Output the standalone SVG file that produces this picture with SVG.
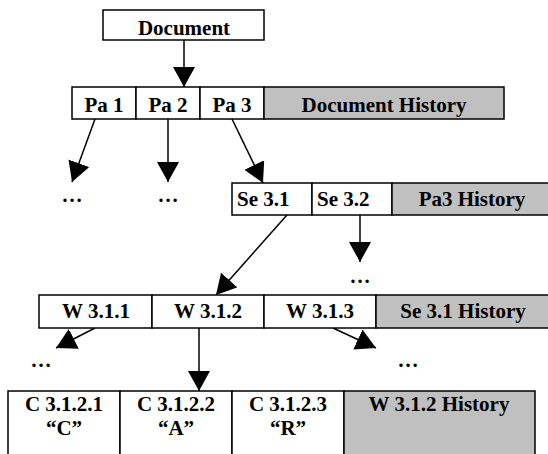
<svg xmlns="http://www.w3.org/2000/svg" width="548" height="454" viewBox="0 0 548 454">
<style>
.c{fill:#fff;stroke:#000;stroke-width:1.5}
.h{fill:#c0c0c0;stroke:#000;stroke-width:1.5}
text{font-family:"Liberation Serif","Times New Roman",serif;font-weight:bold;font-size:21px;fill:#000}
.m{text-anchor:middle}
.e{stroke:#000;stroke-width:1.5;fill:none;marker-end:url(#ah)}
</style>
<defs>
<marker id="ah" markerUnits="userSpaceOnUse" markerWidth="20" markerHeight="22" refX="20" refY="11" orient="auto" viewBox="0 0 20 22">
<path d="M0,0 L20,11 L0,22 z" fill="#000"/>
</marker>
</defs>
<rect width="548" height="454" fill="#fff"/>
<g id="connectors">
<line class="e" x1="184" y1="40" x2="184" y2="87"/>
<line class="e" x1="95" y1="119" x2="72" y2="182"/>
<line class="e" x1="168" y1="119" x2="168" y2="182"/>
<line class="e" x1="232" y1="119" x2="263" y2="183"/>
<line class="e" x1="287" y1="215" x2="216" y2="295"/>
<line class="e" x1="360" y1="215" x2="360" y2="262"/>
<line class="e" x1="95" y1="328" x2="56" y2="348"/>
<line class="e" x1="199" y1="328" x2="199" y2="391"/>
<line class="e" x1="333" y1="328" x2="376" y2="348"/>
</g>
<g id="document"><rect class="c" x="103" y="10" width="161" height="30"/><text class="m" x="184" y="35">Document</text></g>
<g id="pa1"><rect class="c" x="72" y="87" width="64" height="32"/><text class="m" x="104" y="112">Pa 1</text></g>
<g id="pa2"><rect class="c" x="136" y="87" width="64" height="32"/><text class="m" x="168" y="112">Pa 2</text></g>
<g id="pa3"><rect class="c" x="200" y="87" width="64" height="32"/><text class="m" x="232" y="112">Pa 3</text></g>
<g id="dochist"><rect class="h" x="264" y="87" width="240" height="32"/><text class="m" x="384" y="112">Document History</text></g>
<g id="dots1"><text class="m" x="72" y="202">…</text></g>
<g id="dots2"><text class="m" x="168" y="202">…</text></g>
<g id="se31"><rect class="c" x="232" y="183" width="80" height="32"/><text x="237" y="206">Se 3.1</text></g>
<g id="se32"><rect class="c" x="312" y="183" width="80" height="32"/><text x="317" y="206">Se 3.2</text></g>
<g id="pa3hist"><rect class="h" x="392" y="183" width="162" height="32"/><text class="m" x="472" y="206">Pa3 History</text></g>
<g id="dots3"><text class="m" x="360" y="283">…</text></g>
<g id="w311"><rect class="c" x="39" y="295" width="113" height="33"/><text class="m" x="96" y="318">W 3.1.1</text></g>
<g id="w312"><rect class="c" x="152" y="295" width="112" height="33"/><text class="m" x="208" y="318">W 3.1.2</text></g>
<g id="w313"><rect class="c" x="264" y="295" width="112" height="33"/><text class="m" x="320" y="318">W 3.1.3</text></g>
<g id="se31hist"><rect class="h" x="376" y="295" width="176" height="33"/><text class="m" x="463" y="318">Se 3.1 History</text></g>
<g id="dots4"><text class="m" x="41" y="367">…</text></g>
<g id="dots5"><text class="m" x="408" y="367">…</text></g>
<g id="c3121"><rect class="c" x="8" y="391" width="112" height="70"/><text class="m" x="64" y="411">C 3.1.2.1</text><text class="m" x="64" y="435">“C”</text></g>
<g id="c3122"><rect class="c" x="120" y="391" width="112" height="70"/><text class="m" x="176" y="411">C 3.1.2.2</text><text class="m" x="176" y="435">“A”</text></g>
<g id="c3123"><rect class="c" x="232" y="391" width="112" height="70"/><text class="m" x="288" y="411">C 3.1.2.3</text><text class="m" x="288" y="435">“R”</text></g>
<g id="w312hist"><rect class="h" x="344" y="391" width="191" height="70"/><text class="m" x="439" y="411">W 3.1.2 History</text></g>
</svg>
